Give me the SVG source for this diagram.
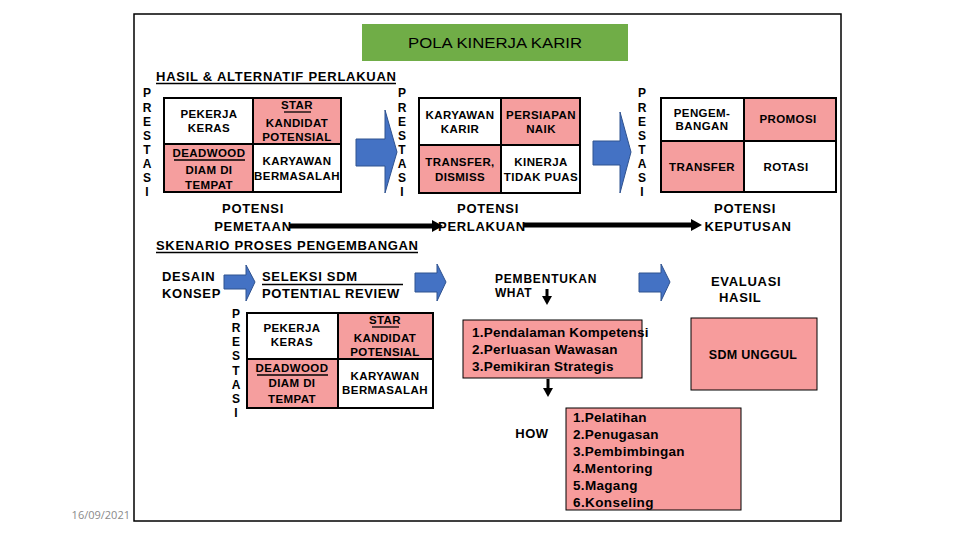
<svg xmlns="http://www.w3.org/2000/svg" width="960" height="540" viewBox="0 0 960 540">
<style>
.t{font-family:"Liberation Sans",Arial,sans-serif;font-weight:bold;fill:#000}
.c{text-anchor:middle;font-size:11.5px;letter-spacing:0.4px}
.p{text-anchor:middle;font-size:12px}
.h{font-size:13px;letter-spacing:0.7px}
.l{font-size:13.5px;letter-spacing:0.5px}
.w{fill:#fff;stroke:#000;stroke-width:2}
.k{fill:#F59E9E;stroke:#000;stroke-width:2}
.b{fill:#4472C4;stroke:#2F528F;stroke-width:1}
.ln{stroke:#000;stroke-width:1.3}
</style>
<rect x="0" y="0" width="960" height="540" fill="#fff"/>
<rect x="134" y="14" width="707" height="507" fill="#fff" stroke="#000" stroke-width="1.5"/>
<text x="130" y="519" text-anchor="end" font-family="'Open Sans',sans-serif" font-size="11" fill="#8a8a8a">16/09/2021</text>

<g id="title">
<rect x="362" y="24" width="266" height="37" fill="#70AD47"/>
<text x="495" y="48" text-anchor="middle" font-family="'Liberation Sans',Arial,sans-serif" font-size="15" textLength="174" lengthAdjust="spacingAndGlyphs" fill="#000">POLA KINERJA KARIR</text>
</g>

<g id="hdr1">
<text class="t" x="156" y="81" font-size="13" textLength="240" lengthAdjust="spacing">HASIL &amp; ALTERNATIF PERLAKUAN</text>
<line x1="156" y1="83.5" x2="396" y2="83.5" class="ln"/>
</g>

<g id="prestasi1" class="t p">
<text x="147" y="97">P</text><text x="147" y="112">R</text><text x="147" y="126">E</text><text x="147" y="140">S</text><text x="147" y="154">T</text><text x="147" y="168">A</text><text x="147" y="182">S</text><text x="147" y="196">I</text>
</g>
<g id="grid1">
<rect class="w" x="164" y="98" width="89" height="46"/>
<rect class="k" x="253" y="98" width="88" height="46"/>
<rect class="k" x="164" y="144" width="89" height="48"/>
<rect class="w" x="253" y="144" width="88" height="48"/>
<g class="t c">
<text x="209" y="118">PEKERJA</text><text x="209" y="132">KERAS</text>
<text x="297" y="109">STAR</text><text x="297" y="127">KANDIDAT</text><text x="297" y="141">POTENSIAL</text>
<text x="209" y="157">DEADWOOD</text><text x="209" y="174">DIAM DI</text><text x="209" y="189">TEMPAT</text>
<text x="297" y="165">KARYAWAN</text><text x="297" y="180">BERMASALAH</text>
</g>
<line x1="284" y1="112" x2="311" y2="112" class="ln"/>
<line x1="174" y1="160" x2="245" y2="160" class="ln"/>
</g>

<g id="prestasi2" class="t p">
<text x="402" y="97">P</text><text x="402" y="112">R</text><text x="402" y="126">E</text><text x="402" y="140">S</text><text x="402" y="154">T</text><text x="402" y="168">A</text><text x="402" y="182">S</text><text x="402" y="196">I</text>
</g>
<g id="grid2">
<rect class="w" x="419" y="98" width="82" height="47"/>
<rect class="k" x="501" y="98" width="79" height="47"/>
<rect class="k" x="419" y="145" width="82" height="48"/>
<rect class="w" x="501" y="145" width="79" height="48"/>
<g class="t c">
<text x="460" y="119">KARYAWAN</text><text x="460" y="133">KARIR</text>
<text x="541" y="119">PERSIAPAN</text><text x="541" y="133">NAIK</text>
<text x="460" y="166">TRANSFER,</text><text x="460" y="181">DISMISS</text>
<text x="541" y="166">KINERJA</text><text x="541" y="181">TIDAK PUAS</text>
</g>
</g>

<g id="prestasi3" class="t p">
<text x="642" y="97">P</text><text x="642" y="112">R</text><text x="642" y="126">E</text><text x="642" y="140">S</text><text x="642" y="154">T</text><text x="642" y="168">A</text><text x="642" y="182">S</text><text x="642" y="196">I</text>
</g>
<g id="grid3">
<rect class="w" x="661" y="98" width="83" height="43"/>
<rect class="k" x="744" y="98" width="92" height="43"/>
<rect class="k" x="661" y="141" width="83" height="51"/>
<rect class="w" x="744" y="141" width="92" height="51"/>
<g class="t c">
<text x="702" y="117">PENGEM-</text><text x="702" y="130">BANGAN</text>
<text x="788" y="123">PROMOSI</text>
<text x="702" y="171">TRANSFER</text>
<text x="786" y="171">ROTASI</text>
</g>
</g>

<g id="arrows-blue">
<polygon class="b" points="356,139 385,139 385,110 397,152 385,193 385,166 356,166"/>
<polygon class="b" points="593,141 620,141 620,112 631,152 620,193 620,165 593,165"/>
<polygon class="b" points="224,275 246,275 246,265 255,282 246,301 246,289 224,289"/>
<polygon class="b" points="415,273 437,273 437,264 446,282 437,301 437,292 415,292"/>
<polygon class="b" points="639,273 661,273 661,264 670,282 661,301 661,292 639,292"/>
</g>

<g id="potensi-labels" class="t h" text-anchor="middle">
<text x="253" y="213">POTENSI</text>
<text x="253" y="231">PEMETAAN</text>
<text x="488" y="213">POTENSI</text>
<text x="482" y="231">PERLAKUAN</text>
<text x="745" y="213">POTENSI</text>
<text x="748" y="231">KEPUTUSAN</text>
</g>
<g id="connectors">
<line x1="290" y1="226" x2="434" y2="226" stroke="#000" stroke-width="5"/>
<polygon points="432,220 443,226 432,232" fill="#000"/>
<line x1="524" y1="225" x2="693" y2="225" stroke="#000" stroke-width="5"/>
<polygon points="691,219 702,225 691,231" fill="#000"/>
<line x1="547" y1="289" x2="547" y2="298" stroke="#000" stroke-width="3"/>
<polygon points="542,296 552,296 547,305" fill="#000"/>
<line x1="548" y1="379" x2="548" y2="390" stroke="#000" stroke-width="3"/>
<polygon points="543,388 553,388 548,397" fill="#000"/>
</g>

<g id="hdr2">
<text class="t" x="156" y="250" font-size="13" textLength="262" lengthAdjust="spacing">SKENARIO PROSES PENGEMBANGAN</text>
<line x1="156" y1="252.5" x2="418" y2="252.5" class="ln"/>
</g>
<g id="desain" class="t h">
<text x="162" y="281">DESAIN</text>
<text x="162" y="298">KONSEP</text>
</g>
<g id="seleksi" class="t h">
<text x="262" y="281">SELEKSI SDM</text>
<line x1="262" y1="284.5" x2="403" y2="284.5" class="ln"/>
<text x="262" y="298" textLength="138" lengthAdjust="spacing">POTENTIAL REVIEW</text>
</g>

<g id="prestasi4" class="t p">
<text x="236" y="318">P</text><text x="236" y="332">R</text><text x="236" y="346">E</text><text x="236" y="360">S</text><text x="236" y="375">T</text><text x="236" y="389">A</text><text x="236" y="403">S</text><text x="236" y="417">I</text>
</g>
<g id="grid4">
<rect class="w" x="247" y="313" width="91" height="46"/>
<rect class="k" x="338" y="313" width="95" height="46"/>
<rect class="k" x="247" y="359" width="91" height="49"/>
<rect class="w" x="338" y="359" width="95" height="49"/>
<g class="t c">
<text x="292" y="332">PEKERJA</text><text x="292" y="346">KERAS</text>
<text x="385" y="324">STAR</text><text x="385" y="342">KANDIDAT</text><text x="385" y="356">POTENSIAL</text>
<text x="292" y="372">DEADWOOD</text><text x="292" y="387">DIAM DI</text><text x="292" y="403">TEMPAT</text>
<text x="385" y="380">KARYAWAN</text><text x="385" y="394">BERMASALAH</text>
</g>
<line x1="372" y1="327" x2="399" y2="327" class="ln"/>
<line x1="257" y1="375" x2="328" y2="375" class="ln"/>
</g>

<g id="what">
<text class="t" x="495" y="283" font-size="12" letter-spacing="0.8">PEMBENTUKAN</text>
<text class="t" x="495" y="297" font-size="12" letter-spacing="0.5">WHAT</text>
</g>
<g id="whatbox">
<rect x="463" y="320" width="179" height="58" fill="#F79C9C" stroke="#000" stroke-width="1"/>
<text class="t l" x="472" y="337" textLength="177" lengthAdjust="spacing">1.Pendalaman Kompetensi</text>
<text class="t l" x="472" y="354" textLength="146" lengthAdjust="spacing">2.Perluasan Wawasan</text>
<text class="t l" x="472" y="371" textLength="142" lengthAdjust="spacing">3.Pemikiran Strategis</text>
</g>
<g id="how">
<text class="t" x="532" y="438" text-anchor="middle" font-size="13" letter-spacing="0.5">HOW</text>
</g>
<g id="howbox">
<rect x="566" y="408" width="175" height="102" fill="#F79C9C" stroke="#000" stroke-width="1"/>
<text class="t l" x="573" y="422" textLength="74" lengthAdjust="spacing">1.Pelatihan</text>
<text class="t l" x="573" y="439" textLength="86" lengthAdjust="spacing">2.Penugasan</text>
<text class="t l" x="573" y="456" textLength="112" lengthAdjust="spacing">3.Pembimbingan</text>
<text class="t l" x="573" y="473" textLength="80" lengthAdjust="spacing">4.Mentoring</text>
<text class="t l" x="573" y="490" textLength="65" lengthAdjust="spacing">5.Magang</text>
<text class="t l" x="573" y="507" textLength="81" lengthAdjust="spacing">6.Konseling</text>
</g>
<g id="evaluasi" class="t h">
<text x="711" y="286">EVALUASI</text>
<text x="719" y="302">HASIL</text>
</g>
<g id="sdm">
<rect x="691" y="318" width="126" height="72" fill="#F79C9C" stroke="#000" stroke-width="1"/>
<text class="t" x="753" y="359" text-anchor="middle" font-size="12.5" letter-spacing="0.3">SDM UNGGUL</text>
</g>
</svg>
